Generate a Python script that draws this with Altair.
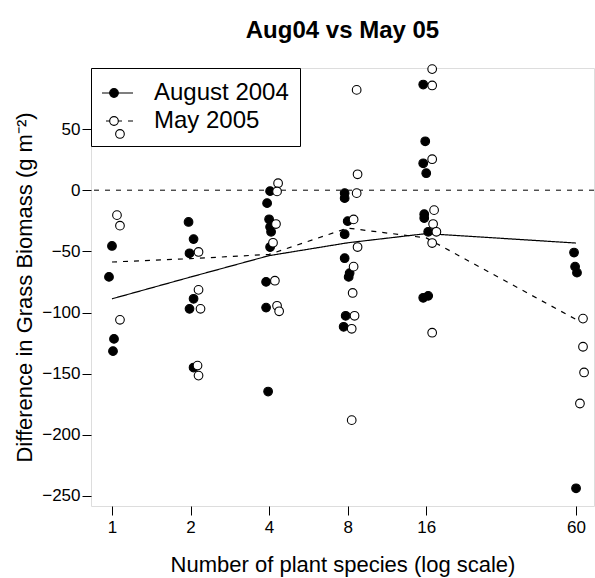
import altair as alt
import pandas as pd

series_names = ["August 2004", "May 2005"]

# August 2004 observations (x = number of species with horizontal jitter, y = difference)
aug_x = [1.0, 0.974, 1.018, 1.009,
         1.965, 2.054, 1.982, 2.054, 1.982, 2.054,
         4.035, 3.93, 4.0, 4.035, 4.07, 4.035, 3.895, 3.895, 3.965,
         7.79, 7.79, 8.0, 7.79, 7.79, 8.14, 8.07, 7.86, 7.72,
         15.58, 15.86, 15.58, 16.0, 15.72, 15.72, 16.28, 15.58, 16.28,
         58.95, 59.5, 60.5, 60.0]
aug_y = [-45.6, -70.9, -121.6, -131.6,
         -26, -40, -51.6, -88.8, -97, -145,
         -0.8, -10.6, -23.8, -30, -34, -46.5, -75, -96, -164.6,
         -2.4, -6.5, -25.3, -36, -55.6, -67.8, -70.9, -102.7, -111.7,
         86.4, 40, 22, 13.9, -19.6, -22.8, -34, -88, -86.4,
         -51, -62.5, -67.4, -243.7]

# May 2005 observations
may_x = [1.073, 1.045, 1.073, 1.073,
         2.146, 2.146, 2.184, 2.127, 2.146,
         4.33, 4.29, 4.25, 4.14, 4.21, 4.29, 4.37,
         8.66, 8.73, 8.66, 8.43, 8.73, 8.43, 8.36, 8.5, 8.29, 8.29,
         16.86, 16.86, 16.86, 17.15, 17.0, 17.5, 16.86, 16.86,
         63.8, 63.8, 64.4, 62.1]
may_y = [46, -20.4, -29, -106,
         -50.5, -81.5, -97, -143.4, -151.6,
         5.7, -1, -27.7, -43, -74, -94.5, -99,
         82, 13, -2.4, -23.9, -46.5, -62.5, -84, -102.7, -113.3, -188,
         99, 85.6, 25.3, -16.3, -27.7, -34, -43.2, -116.5,
         -105, -128, -149, -174.4]

# smoothed trend lines
fit_x = [1, 2, 4, 8, 16, 60]
aug_fit = [-88.8, -71, -53.5, -43, -35.5, -43.2]
may_fit = [-58.7, -56, -52.5, -31, -39, -105.7]

x_ticks = [1, 2, 4, 8, 16, 60]
y_ticks = [-250, -200, -150, -100, -50, 0, 50]
ref_y = [0]

pts = pd.DataFrame({
    "x": aug_x + may_x,
    "y": aug_y + may_y,
    "series": [series_names[0]] * len(aug_x) + [series_names[1]] * len(may_x),
})
fit = pd.DataFrame({
    "x": fit_x + fit_x,
    "y": aug_fit + may_fit,
    "series": [series_names[0]] * len(fit_x) + [series_names[1]] * len(fit_x),
})
ref = pd.DataFrame({"y": ref_y})

FONT = "Liberation Sans"

xenc = alt.X("x:Q",
             scale=alt.Scale(type="log", domain=[0.831, 70.3], nice=False),
             axis=alt.Axis(values=x_ticks, format="d", title="Number of plant species (log scale)",
                           grid=False, domain=False, tickSize=9, tickColor="black",
                           labelFontSize=17, labelColor="black", labelPadding=4, labelFont=FONT,
                           titleFontSize=22, titleFontWeight="normal", titleColor="black",
                           titleFont=FONT, titlePadding=19))
yenc = alt.Y("y:Q",
             scale=alt.Scale(domain=[-258.2, 99.9], nice=False, zero=False),
             axis=alt.Axis(values=y_ticks, title="Difference in Grass Biomass (g m⁻²)",
                           grid=False, domain=False, tickSize=9, tickColor="black",
                           labelFontSize=17, labelColor="black", labelPadding=2, labelFont=FONT,
                           titleFontSize=22, titleFontWeight="normal", titleColor="black",
                           titleFont=FONT, titlePadding=5))

zero_line = alt.Chart(ref).mark_rule(color="black", strokeWidth=1, strokeDash=[5, 6]).encode(y="y:Q")

# legend part 1: line samples + labels + frame
legend_lines = alt.Legend(title=None, orient="none", legendX=0, legendY=0,
                          strokeColor="black", padding=11, symbolType="stroke", symbolSize=1444,
                          clipHeight=28, rowPadding=0, symbolOffset=-8,
                          labelOffset=20, labelFontSize=24, labelFont=FONT,
                          labelColor="black", symbolStrokeColor="black",
                          symbolStrokeWidth=1.1)

lines = alt.Chart(fit).mark_line(color="black", strokeWidth=1.2).encode(
    x=xenc, y=yenc,
    detail="series:N",
    strokeDash=alt.StrokeDash("series:N",
                              scale=alt.Scale(domain=series_names, range=[[1, 0], [5, 6]]),
                              legend=legend_lines),
)

points_aug = alt.Chart(pts).transform_filter(
    alt.datum.series == series_names[0]
).mark_circle(size=75, opacity=1, stroke="black", strokeWidth=1.1, fill="black").encode(
    x=xenc, y=yenc)

points_may = alt.Chart(pts).transform_filter(
    alt.datum.series == series_names[1]
).mark_circle(size=75, opacity=1, stroke="black", strokeWidth=1.1, fill="white").encode(
    x=xenc, y=yenc)

# legend part 2: circle samples laid over the line samples (no labels of its own)
legend_points = alt.Legend(title=None, orient="none", legendX=0, legendY=0,
                           padding=11, symbolType="circle", symbolSize=75,
                           clipHeight=28, rowPadding=0, symbolOffset=0,
                           labelOffset=17, labelFontSize=24, labelFont=FONT,
                           labelExpr="''", symbolStrokeColor="black",
                           symbolStrokeWidth=1.1, symbolOpacity=1)

legend_layer = alt.Chart(pts).transform_filter("false").mark_circle(
    opacity=1, stroke="black", strokeWidth=1.1).encode(
    x=xenc, y=yenc,
    fill=alt.Fill("series:N", scale=alt.Scale(domain=series_names, range=["black", "white"]),
                  legend=legend_points),
)

chart = alt.layer(zero_line, lines, points_aug, points_may, legend_layer).resolve_legend(
    strokeDash="independent", fill="independent"
).properties(
    width=503, height=438,
    title=alt.TitleParams("Aug04 vs May 05", fontSize=24, fontWeight="bold", font=FONT,
                          anchor="middle", color="black", offset=20),
    padding={"left": 91, "top": 68, "right": 1, "bottom": 72},
    autosize=alt.AutoSizeParams(type="none"),
).configure_view(stroke="black", strokeWidth=1.2).configure(background="white")

chart.save("out.html", embed_options={"renderer": "svg", "actions": False})
